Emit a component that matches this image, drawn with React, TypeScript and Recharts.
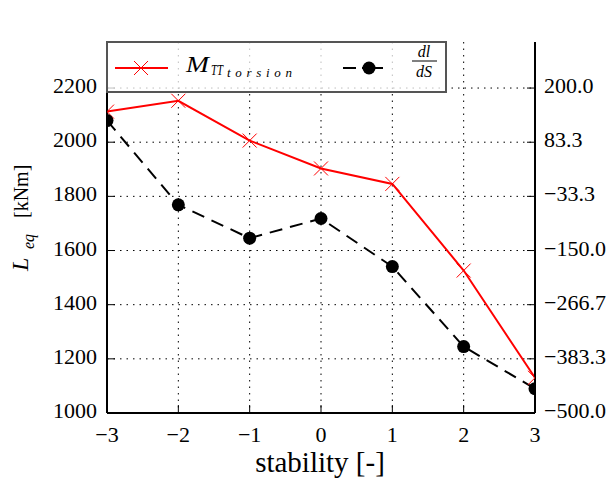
import { LineChart, Line, XAxis, YAxis, CartesianGrid, Legend } from "recharts";

const STABILITY = [-3, -2, -1, 0, 1, 2, 3];
const M_TT_TORSION = [2113, 2153, 2006, 1903, 1846, 1526, 1130];
const DL_DS = [130, -51.6, -123.4, -81, -184.6, -357, -447.6];
const X_TICKS = [-3, -2, -1, 0, 1, 2, 3];
const LEFT_TICKS = [1000, 1200, 1400, 1600, 1800, 2000, 2200];
const RIGHT_TICKS = [-500, -383.3, -266.7, -150, -33.3, 83.3, 200];

const data = STABILITY.map((s, i) => ({ s, m: M_TT_TORSION[i], d: DL_DS[i] }));

const FONT = "Liberation Serif";
const serif = { fontFamily: FONT };
const minus = (v: string) => v.replace("-", "\u2212");

function BottomTick({ x, y, payload }: any) {
  return (
    <g>
      <line x1={x} y1={y} x2={x} y2={y - 8} stroke="#000" />
      <text x={x} y={y + 29} textAnchor="middle" style={serif} fontSize={22} fill="#000">
        {minus(String(payload.value))}
      </text>
    </g>
  );
}

function TopTick({ x, y }: any) {
  return <line x1={x} y1={y} x2={x} y2={y + 8} stroke="#000" />;
}

function LeftTick({ x, y, payload }: any) {
  return (
    <g>
      <line x1={x} y1={y} x2={x + 8} y2={y} stroke="#000" />
      <text x={x - 10} y={y + 5} textAnchor="end" style={serif} fontSize={22} fill="#000">
        {payload.value}
      </text>
    </g>
  );
}

function RightTick({ x, y, payload }: any) {
  return (
    <g>
      <line x1={x} y1={y} x2={x - 8} y2={y} stroke="#000" />
      <text x={x + 9} y={y + 5} textAnchor="start" style={serif} fontSize={22} fill="#000">
        {minus(Number(payload.value).toFixed(1))}
      </text>
    </g>
  );
}

function CrossDot({ cx, cy }: any) {
  if (cx == null || cy == null) return null;
  return (
    <g stroke="#ff0000" strokeWidth={1}>
      <line x1={cx - 7} y1={cy - 7} x2={cx + 7} y2={cy + 7} />
      <line x1={cx - 7} y1={cy + 7} x2={cx + 7} y2={cy - 7} />
    </g>
  );
}

function XLabel() {
  return (
    <text x={320} y={472} textAnchor="middle" style={serif} fontSize={29} fill="#000">
      stability [-]
    </text>
  );
}

function YLabel() {
  return (
    <g style={serif} fill="#000">
      <text x={28} y={271} transform="rotate(-90 28 271)" fontSize={24} fontStyle="italic">L</text>
      <text x={34} y={249} transform="rotate(-90 34 249)" fontSize={16} fontStyle="italic">eq</text>
      <text x={28} y={218} transform="rotate(-90 28 218)" fontSize={20}>[kNm]</text>
    </g>
  );
}

function LegendBox() {
  return (
    <svg width={342} height={53} style={{ display: "block", fontFamily: FONT }}>
      <rect x={1} y={1} width={339} height={50} fill="#fff" fillOpacity={0.75} stroke="#555" strokeWidth={2} />
      <line x1={9} y1={27} x2={62} y2={27} stroke="#ff0000" strokeWidth={2} />
      <CrossDot cx={35} cy={27} />
      <text x={80} y={31} fontSize={23} fontStyle="italic" textLength={23} lengthAdjust="spacingAndGlyphs">M</text>
      <text x={105} y={34} fontSize={14} fontStyle="italic" textLength={12} lengthAdjust="spacingAndGlyphs">TT</text>
      <text x={121} y={36} fontSize={13} fontStyle="italic" textLength={65} lengthAdjust="spacing">torsion</text>
      <line x1={237} y1={27} x2={250} y2={27} stroke="#000" strokeWidth={2} />
      <line x1={256} y1={27} x2={277} y2={27} stroke="#000" strokeWidth={2} />
      <circle cx={263} cy={27} r={6.5} fill="#000" />
      <text x={318} y={16} fontSize={16} fontStyle="italic" textAnchor="middle">dl</text>
      <line x1={306} y1={20} x2={331} y2={20} stroke="#000" strokeWidth={1} />
      <text x={318} y={36} fontSize={16} fontStyle="italic" textAnchor="middle">dS</text>
    </svg>
  );
}

export default function App() {
  return (
    <div style={{ position: "absolute", left: 0, top: 0, background: "#fff", fontFamily: FONT }}>
      <LineChart width={612} height={483} data={data} margin={{ top: 42, right: 0, bottom: 0, left: 0 }}>
        <CartesianGrid
          yAxisId="left"
          stroke="#000"
          strokeDasharray="1.5 5"
          strokeWidth={1}
          horizontalValues={LEFT_TICKS}
          verticalValues={X_TICKS}
        />
        <XAxis
          dataKey="s"
          type="number"
          domain={[-3, 3]}
          ticks={X_TICKS}
          allowDataOverflow
          height={70}
          tickSize={0}
          tickMargin={0}
          tickLine={false}
          tick={<BottomTick />}
          axisLine={{ stroke: "#000", strokeWidth: 2 }}
          label={<XLabel />}
        />
        <XAxis
          xAxisId="top"
          dataKey="s"
          type="number"
          orientation="top"
          domain={[-3, 3]}
          ticks={X_TICKS}
          height={0}
          tickSize={0}
          tickMargin={0}
          tickLine={false}
          tick={<TopTick />}
          axisLine={{ stroke: "#000", strokeWidth: 2 }}
        />
        <YAxis
          yAxisId="left"
          type="number"
          domain={[1000, 2370]}
          ticks={LEFT_TICKS}
          width={107}
          tickSize={0}
          tickMargin={0}
          tickLine={false}
          tick={<LeftTick />}
          axisLine={{ stroke: "#000", strokeWidth: 2 }}
          label={<YLabel />}
        />
        <YAxis
          yAxisId="right"
          orientation="right"
          type="number"
          domain={[-500, 299.2]}
          ticks={RIGHT_TICKS}
          width={77}
          tickSize={0}
          tickMargin={0}
          tickLine={false}
          tick={<RightTick />}
          axisLine={{ stroke: "#000", strokeWidth: 2 }}
        />
        <Line
          yAxisId="left"
          dataKey="m"
          stroke="#ff0000"
          strokeWidth={2}
          dot={<CrossDot />}
          activeDot={false}
          isAnimationActive={false}
        />
        <Line
          yAxisId="right"
          dataKey="d"
          stroke="#000"
          strokeWidth={2}
          strokeDasharray="13 8"
          dot={{ r: 6.5, fill: "#000", strokeWidth: 0 }}
          activeDot={false}
          isAnimationActive={false}
        />
        <Legend
          layout="horizontal"
          verticalAlign="middle"
          align="center"
          content={<LegendBox />}
          wrapperStyle={{ position: "absolute", left: 106, top: 41, width: 342, height: 53 }}
        />
      </LineChart>
    </div>
  );
}
